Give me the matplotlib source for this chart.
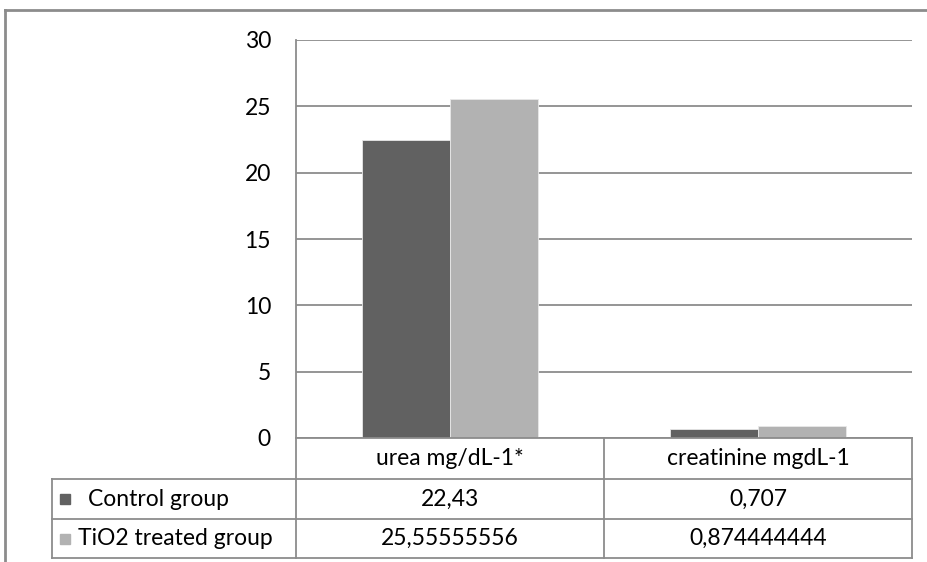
import matplotlib.pyplot as plt
from matplotlib.lines import Line2D
from matplotlib.patches import Rectangle

categories = ['urea mg/dL-1*', 'creatinine mgdL-1']
series = ['Control group', 'TiO2 treated group']
control = [22.43, 0.707]
treated = [25.55555556, 0.874444444]
control_labels = ['22,43', '0,707']
treated_labels = ['25,55555556', '0,874444444']
colors = ['#616161', '#b2b2b2']
grid_color = '#8c8c8c'

W, H = 928, 562
plt.rcParams['font.family'] = ['Lato', 'DejaVu Sans']

fig = plt.figure(figsize=(W / 100, H / 100), dpi=100)


def fx(x):
    return x / W


def fy(y):
    return 1 - y / H


def hline(x0, x1, y, lw=1.3, color=grid_color):
    fig.add_artist(Line2D([fx(x0), fx(x1)], [fy(y), fy(y)], color=color, lw=lw))


def vline(x, y0, y1, lw=1.3, color=grid_color):
    fig.add_artist(Line2D([fx(x), fx(x)], [fy(y0), fy(y1)], color=color, lw=lw))


# outer chart border (only top and left visible)
hline(5, W, 10, lw=2)
vline(5, 10, H, lw=2)

# plot area
left, right, top, base = 296, 912, 40, 438
ax = fig.add_axes([fx(left), fy(base), fx(right) - fx(left), fy(top) - fy(base)])
x = [0, 1]
bw = 0.2857
ax.bar([i - bw / 2 for i in x], control, width=bw, color=colors[0], edgecolor='#e8e8e8', linewidth=0.6, zorder=3)
ax.bar([i + bw / 2 for i in x], treated, width=bw, color=colors[1], edgecolor='#e8e8e8', linewidth=0.6, zorder=3)
ax.set_xlim(-0.5, 1.5)
ax.set_ylim(0, 30)
ax.set_yticks(range(0, 31, 5))
ax.yaxis.grid(True, color=grid_color, lw=1.3, zorder=0)
ax.set_xticks([])
fs = 16.5
ax.tick_params(axis='y', length=0, pad=18, labelsize=fs, colors='black')
for s in ['top', 'right', 'bottom']:
    ax.spines[s].set_visible(False)
ax.spines['left'].set_color(grid_color)
ax.spines['left'].set_linewidth(1.3)

# data table
tleft, cmid = 52, 604
rows = [438, 479, 519, 558]
hline(left, right, rows[0])
for y in rows[1:]:
    hline(tleft, right, y)
vline(tleft, rows[1], rows[3])
for xv in [left, cmid, right]:
    vline(xv, rows[0], rows[3])

col_centers = [(left + cmid) / 2, (cmid + right) / 2]
for c, name in zip(col_centers, categories):
    fig.text(fx(c), fy((rows[0] + rows[1]) / 2), name, ha='center', va='center', fontsize=fs, color='black')
for r, (labels, name, col, tx) in enumerate(zip([control_labels, treated_labels], series, colors, [88, 78])):
    yc = (rows[r + 1] + rows[r + 2]) / 2
    fig.add_artist(Rectangle((fx(60), fy(yc + 5)), fx(10), 10 / H, color=col))
    fig.text(fx(tx), fy(yc), name, ha='left', va='center', fontsize=fs, color='black')
    for c, lab in zip(col_centers, labels):
        fig.text(fx(c), fy(yc), lab, ha='center', va='center', fontsize=fs, color='black')

fig.savefig('out.png', dpi=100)
